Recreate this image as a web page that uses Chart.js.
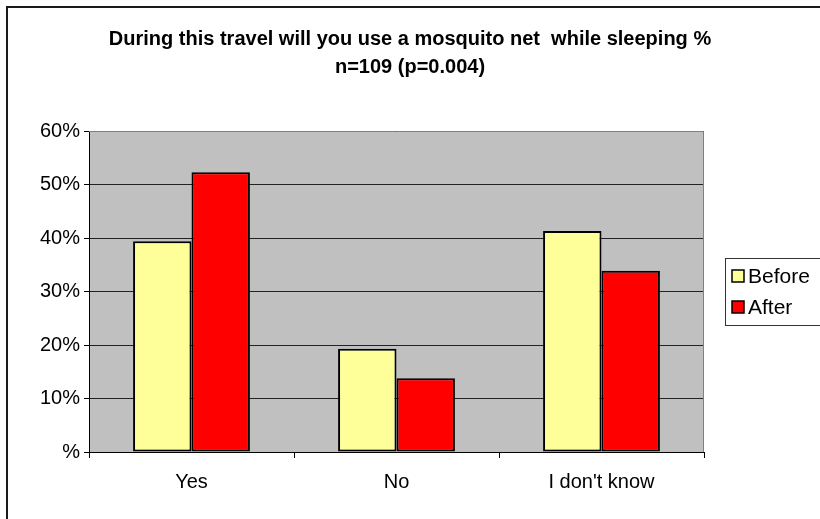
<!DOCTYPE html>
<html>
<head>
<meta charset="utf-8">
<title>Mosquito net use</title>
<script src="https://cdn.jsdelivr.net/npm/chart.js@4/dist/chart.umd.min.js"></script>
<style>
  html, body { margin: 0; padding: 0; background: #fff; }
  canvas { display: block; }
</style>
</head>
<body>
<canvas id="c" width="820" height="519"></canvas>
<script>
// Survey answers (share of respondents)
const categories = ['Yes', 'No', "I don't know"];
const beforeValues = [0.394, 0.193, 0.413];
const afterValues = [0.523, 0.138, 0.339];
const seriesNames = ['Before', 'After'];
const yTickLabels = ['%', '10%', '20%', '30%', '40%', '50%', '60%'];
const titleLines = ['During this travel will you use a mosquito net  while sleeping %', 'n=109 (p=0.004)'];

const FONT = "'Liberation Sans', Arial, sans-serif";

// Grey plot background, grey top/right frame and the outer chart border
const plotFrame = {
  id: 'plotFrame',
  beforeDraw(chart) {
    const { ctx, chartArea: a } = chart;
    ctx.save();
    ctx.fillStyle = '#c0c0c0';
    ctx.fillRect(a.left, a.top, a.right - a.left, a.bottom - a.top);
    ctx.restore();
  },
  beforeDatasetsDraw(chart) {
    const { ctx, chartArea: a } = chart;
    ctx.save();
    ctx.strokeStyle = '#808080';
    ctx.lineWidth = 1;
    ctx.beginPath();
    ctx.moveTo(a.left, a.top + 0.5);
    ctx.lineTo(a.right - 0.5, a.top + 0.5);
    ctx.lineTo(a.right - 0.5, a.bottom);
    ctx.stroke();
    ctx.restore();
  },
  afterDraw(chart) {
    const ctx = chart.ctx;
    ctx.save();
    ctx.strokeStyle = '#1a1a1a';
    ctx.lineWidth = 2;
    ctx.strokeRect(7, 7, chart.width + 20, chart.height + 20);
    ctx.restore();
  }
};

// Boxed legend at the right, built from the dataset labels and colours
const boxedLegend = {
  id: 'boxedLegend',
  afterDraw(chart) {
    const ctx = chart.ctx;
    const left = 725.5, top = 258.5, bottom = 325.5;
    ctx.save();
    ctx.strokeStyle = '#333';
    ctx.lineWidth = 1;
    ctx.strokeRect(left, top, chart.width, bottom - top);
    ctx.font = '21px ' + FONT;
    ctx.textBaseline = 'middle';
    ctx.textAlign = 'left';
    const rowY = [276, 307];
    chart.data.datasets.forEach((ds, i) => {
      const y = rowY[i];
      ctx.fillStyle = ds.backgroundColor;
      ctx.fillRect(732, y - 6, 12, 12);
      ctx.strokeStyle = '#000';
      ctx.lineWidth = 1.5;
      ctx.strokeRect(732, y - 6, 12, 12);
      ctx.fillStyle = '#000';
      ctx.fillText(ds.label, 748, y + 1);
    });
    ctx.restore();
  }
};

new Chart(document.getElementById('c'), {
  type: 'bar',
  data: {
    labels: categories,
    datasets: [
      { label: seriesNames[0], data: beforeValues, backgroundColor: '#ffff99' },
      { label: seriesNames[1], data: afterValues, backgroundColor: '#ff0000' }
    ]
  },
  options: {
    responsive: false,
    devicePixelRatio: 1,
    animation: false,
    layout: { padding: 0 },
    datasets: {
      bar: {
        borderColor: '#000',
        borderWidth: 2,
        borderSkipped: false,
        barPercentage: 1,
        categoryPercentage: 0.57
      }
    },
    plugins: {
      legend: { display: false },
      tooltip: { enabled: false },
      title: {
        display: true,
        text: titleLines,
        color: '#000',
        font: { family: FONT, size: 20, weight: 'bold', lineHeight: 1.4 },
        padding: { top: 25, bottom: 50 }
      }
    },
    scales: {
      x: {
        grid: { offset: true, drawOnChartArea: false, drawTicks: true, tickLength: 6, color: '#000' },
        border: { display: true, color: '#000', width: 1 },
        ticks: { color: '#000', font: { family: FONT, size: 20 }, padding: 12 },
        afterFit(s) { s.height = 67; }
      },
      y: {
        min: 0,
        max: 0.6,
        grid: { color: '#222', lineWidth: 1, tickLength: 5, drawTicks: true, tickColor: '#000' },
        border: { display: true, color: '#000', width: 1 },
        ticks: {
          stepSize: 0.1,
          color: '#000',
          font: { family: FONT, size: 20 },
          padding: 4,
          callback: (v, i) => yTickLabels[i]
        },
        afterFit(s) { s.width = 89; }
      },
      legendSpace: {
        type: 'linear',
        position: 'right',
        display: true,
        grid: { display: false, drawOnChartArea: false },
        border: { display: false },
        ticks: { display: false },
        afterFit(s) { s.width = 116; }
      }
    }
  },
  plugins: [plotFrame, boxedLegend]
});
</script>
</body>
</html>
